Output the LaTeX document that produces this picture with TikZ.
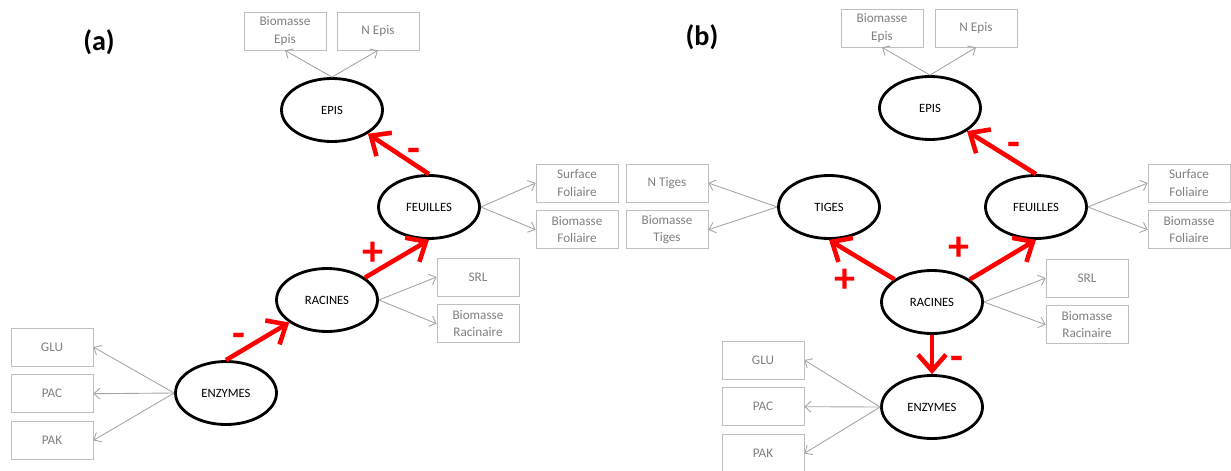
\documentclass[tikz,border=0pt]{standalone}
\usepackage{fontspec}
\setmainfont{Carlito}
\usetikzlibrary{positioning,shapes.geometric,arrows.meta}
\definecolor{boxgray}{RGB}{191,191,191}
\definecolor{txtgray}{RGB}{127,127,127}
\definecolor{linkgray}{RGB}{165,165,165}

\begin{document}
\begin{tikzpicture}[
	organe/.style={ellipse, draw, line width=1.6pt, minimum width=2.02cm, minimum height=1.26cm, inner sep=0pt, font=\fontsize{7.2}{8}\selectfont},
	mesure/.style={rectangle, draw=boxgray, text=txtgray, minimum width=1.64cm, minimum height=0.76cm, inner sep=1pt, align=center, font=\fontsize{7.5}{10}\selectfont},
	effet/.style={-{Straight Barb[length=0.32cm, width=0.56cm]}, red, line width=2.6pt},
	lien/.style={-{Straight Barb[length=0.12cm, width=0.22cm]}, linkgray, line width=0.5pt},
	signe/.style={text=red, font=\fontsize{24}{24}\selectfont\bfseries, inner sep=0pt},
	panneau/.style={font=\fontsize{16}{18}\selectfont\bfseries},
	node distance=0.16cm]
	\useasboundingbox (0,0) rectangle (24.62,9.40);
	% (a)
	\node[panneau] (labA) at (1.98,8.56) {(a)};
	\node[organe] (episA) at (6.64,7.20) {EPIS};
	\node[organe] (feuA) at (8.58,5.26) {FEUILLES};
	\node[organe] (racA) at (6.54,3.40) {RACINES};
	\node[organe] (enzA) at (4.52,1.54) {ENZYMES};
	\node[mesure] (bioEpisA) at (5.70,8.78) {Biomasse\\Epis};
	\node[mesure] (nEpisA) at (7.56,8.78) {N Epis};
	\node[mesure] (surfA) at (11.54,5.74) {Surface\\Foliaire};
	\node[mesure, below=of surfA] (bioFolA) {Biomasse\\Foliaire};
	\node[mesure] (srlA) at (9.56,3.86) {SRL};
	\node[mesure, below=of srlA] (bioRacA) {Biomasse\\Racinaire};
	\node[mesure] (gluA) at (1.04,2.46) {GLU};
	\node[mesure, below=of gluA] (pacA) {PAC};
	\node[mesure, below=of pacA] (pakA) {PAK};
	\draw[effet] (feuA.north) -- (episA);
	\draw[effet] (racA) -- (feuA.south);
	\draw[effet] (enzA.north) -- (racA);
	\node[signe] (sFeuEpisA) at (8.28,6.30) {-};
	\node[signe] (sRacFeuA) at (7.46,4.32) {+};
	\node[signe] (sEnzRacA) at (4.78,2.60) {-};
	\draw[lien] (episA.north) -- (bioEpisA.south);
	\draw[lien] (episA.north) -- (nEpisA.south);
	\draw[lien] (feuA.east) -- (surfA.west);
	\draw[lien] (feuA.east) -- (bioFolA.west);
	\draw[lien] (racA.east) -- (srlA.west);
	\draw[lien] (racA.east) -- (bioRacA.west);
	\draw[lien] (enzA.west) -- (gluA.east);
	\draw[lien] (enzA.west) -- (pacA.east);
	\draw[lien] (enzA.west) -- (pakA.east);
	% (b)
	\node[panneau] (labB) at (14.04,8.66) {(b)};
	\node[organe] (episB) at (18.60,7.24) {EPIS};
	\node[organe] (tigB) at (16.58,5.26) {TIGES};
	\node[organe] (feuB) at (20.72,5.26) {FEUILLES};
	\node[organe] (racB) at (18.64,3.36) {RACINES};
	\node[organe] (enzB) at (18.64,1.26) {ENZYMES};
	\node[mesure] (bioEpisB) at (17.64,8.84) {Biomasse\\Epis};
	\node[mesure] (nEpisB) at (19.52,8.84) {N Epis};
	\node[mesure] (nTigB) at (13.34,5.74) {N Tiges};
	\node[mesure, below=of nTigB] (bioTigB) {Biomasse\\Tiges};
	\node[mesure] (surfB) at (23.78,5.74) {Surface\\Foliaire};
	\node[mesure, below=of surfB] (bioFolB) {Biomasse\\Foliaire};
	\node[mesure] (srlB) at (21.74,3.84) {SRL};
	\node[mesure, below=of srlB] (bioRacB) {Biomasse\\Racinaire};
	\node[mesure] (gluB) at (15.26,2.20) {GLU};
	\node[mesure, below=of gluB] (pacB) {PAC};
	\node[mesure, below=of pacB] (pakB) {PAK};
	\draw[effet] (feuB.north) -- (episB);
	\draw[effet] (racB) -- (tigB.south);
	\draw[effet] (racB) -- (feuB.south);
	\draw[effet] (racB.south) -- (enzB.north);
	\node[signe] (sFeuEpisB) at (20.28,6.42) {-};
	\node[signe] (sRacTigB) at (16.90,3.78) {+};
	\node[signe] (sRacFeuB) at (19.18,4.42) {+};
	\node[signe] (sRacEnzB) at (19.14,2.14) {-};
	\draw[lien] (episB.north) -- (bioEpisB.south);
	\draw[lien] (episB.north) -- (nEpisB.south);
	\draw[lien] (tigB.west) -- (nTigB.east);
	\draw[lien] (tigB.west) -- (bioTigB.east);
	\draw[lien] (feuB.east) -- (surfB.west);
	\draw[lien] (feuB.east) -- (bioFolB.west);
	\draw[lien] (racB.east) -- (srlB.west);
	\draw[lien] (racB.east) -- (bioRacB.west);
	\draw[lien] (enzB.west) -- (gluB.east);
	\draw[lien] (enzB.west) -- (pacB.east);
	\draw[lien] (enzB.west) -- (pakB.east);
\end{tikzpicture}
\end{document}
